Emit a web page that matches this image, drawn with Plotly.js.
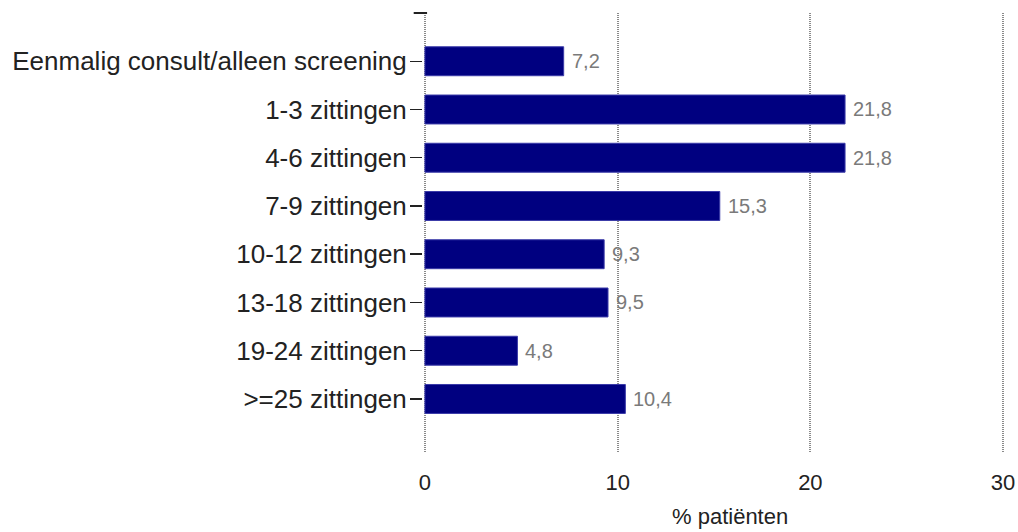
<!DOCTYPE html>
<html>
<head>
<meta charset="utf-8">
<script src="https://cdn.plot.ly/plotly-3.0.1.min.js"></script>
<style>html,body{margin:0;padding:0;background:#fff;}#chart{width:1018px;height:532px;}</style>
</head>
<body>
<div id="chart"></div>
<script>
const categories = [
  "Eenmalig consult/alleen screening",
  "1-3 zittingen",
  "4-6 zittingen",
  "7-9 zittingen",
  "10-12 zittingen",
  "13-18 zittingen",
  "19-24 zittingen",
  ">=25 zittingen"
];
const values = [7.2, 21.8, 21.8, 15.3, 9.3, 9.5, 4.8, 10.4];
const xTicks = [0, 10, 20, 30];
const xTitle = "% patiënten";

const font = "Liberation Sans, Arial, sans-serif";

const bars = {
  type: "bar",
  orientation: "h",
  y: categories,
  x: values,
  marker: { color: "#000080", line: { color: "#3a3aa8", width: 1 } },
  hoverinfo: "x+y",
  cliponaxis: false
};

const valueLabels = values.map((v, i) => ({
  x: v, y: categories[i], xref: "x", yref: "y",
  text: v.toFixed(1).replace(".", ","),
  showarrow: false, xanchor: "left", yanchor: "middle", xshift: 6,
  font: { family: font, size: 20, color: "#7a7a7a" }
}));

const layout = {
  width: 1018,
  height: 532,
  margin: { l: 423, r: 13, t: 13, b: 79 },
  paper_bgcolor: "#ffffff",
  plot_bgcolor: "#ffffff",
  showlegend: false,
  bargap: 0.4,
  separators: ",.",
  font: { family: font, size: 16, color: "#222222" },
  xaxis: {
    range: [-0.1, 30.1],
    tickvals: xTicks,
    ticktext: xTicks.map(String),
    showgrid: true,
    gridcolor: "#8a8a8a",
    griddash: "1px,1px",
    gridwidth: 2,
    zeroline: false,
    showline: false,
    ticks: "",
    ticklabelstandoff: 14,
    tickfont: { family: font, size: 22, color: "#222222" }
  },
  yaxis: {
    type: "category",
    categoryorder: "array",
    categoryarray: categories,
    range: [8.12, -1],
    showgrid: false,
    zeroline: false,
    showline: false,
    ticks: "outside",
    ticklen: 12,
    tickwidth: 1.5,
    tickcolor: "#222222",
    ticklabelstandoff: -2,
    tickfont: { family: font, size: 26, color: "#222222" }
  },
  annotations: valueLabels.concat([
    { text: xTitle, xref: "paper", yref: "paper", x: 0.5277, y: -0.145,
      xanchor: "center", yanchor: "middle", showarrow: false,
      font: { family: font, size: 22, color: "#222222" } }
  ]),
  shapes: [
    { type: "line", xref: "paper", yref: "paper", x0: -0.016, x1: 0.007, y0: 1, y1: 1,
      line: { color: "#222222", width: 2 } }
  ]
};

Plotly.newPlot("chart", [bars], layout, { displayModeBar: false, staticPlot: true });
</script>
</body>
</html>
